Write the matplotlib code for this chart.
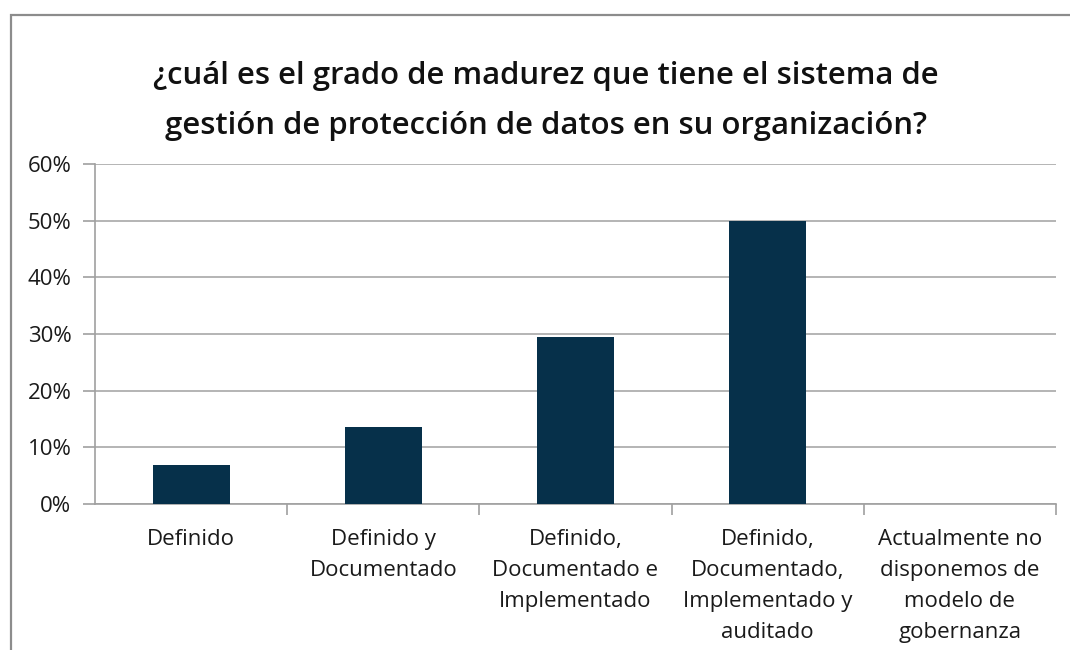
import numpy as np
import matplotlib
matplotlib.use("Agg")
import matplotlib.pyplot as plt
from matplotlib.patches import Rectangle
from matplotlib.ticker import FixedLocator, PercentFormatter

plt.rcParams['font.family'] = ['Open Sans', 'DejaVu Sans']

categorias = [
    "Definido",
    "Definido y\nDocumentado",
    "Definido,\nDocumentado e\nImplementado",
    "Definido,\nDocumentado,\nImplementado y\nauditado",
    "Actualmente no\ndisponemos de\nmodelo de\ngobernanza",
]
valores = [6.8, 13.6, 29.5, 50.0, 0.0]
yticks = [0, 10, 20, 30, 40, 50, 60]
titulo = ("¿cuál es el grado de madurez que tiene el sistema de\n"
          "gestión de protección de datos en su organización?")

W, H = 1070, 650
bar_color = "#06304a"
grid_color = "#b4b4b4"
axis_color = "#a0a0a0"

fig = plt.figure(figsize=(W / 100, H / 100), dpi=100)
fig.patch.set_facecolor("white")

# marco del grafico (solo se ven el borde superior e izquierdo)
fig.patches.append(Rectangle(
    (11 / W, -0.2), 1.2, 1.2 - 15 / H,
    transform=fig.transFigure, fill=False,
    edgecolor="#8c8c8c", linewidth=1.6
    ))

ax = fig.add_axes([95 / W, 1 - 504 / H, (1056 - 95) / W, (504 - 164) / H])
x = np.arange(len(categorias))
ax.bar(x, valores, width=0.4, color=bar_color, zorder=3)

ax.set_xlim(-0.5, len(categorias) - 0.5)
ax.set_ylim(0, 60)
ax.set_yticks(yticks)
ax.yaxis.set_major_formatter(PercentFormatter(decimals=0))
ax.yaxis.grid(True, color=grid_color, linewidth=1.4, zorder=0)

ax.set_xticks(x)
ax.set_xticklabels(categorias, fontsize=16, linespacing=1.62, va="top")
ax.xaxis.set_minor_locator(FixedLocator(np.arange(0.5, len(categorias), 1.0)))
ax.tick_params(axis="x", which="major", length=0, pad=18, colors="#1a1a1a")
ax.tick_params(axis="x", which="minor", length=8, width=1.2, color=axis_color)
ax.tick_params(axis="y", length=9, width=1.2, color=axis_color,
               labelsize=16, labelcolor="#1a1a1a", pad=8)

for s in ["top", "right"]:
    ax.spines[s].set_visible(False)
for s in ["left", "bottom"]:
    ax.spines[s].set_color(axis_color)
    ax.spines[s].set_linewidth(1.2)

fig.text(546 / W, 1 - 101 / H, titulo, ha="center", va="center",
         fontsize=22.4, fontweight="semibold", linespacing=1.9,
         color="#111111")

fig.savefig("out.png", dpi=100, facecolor="white")
